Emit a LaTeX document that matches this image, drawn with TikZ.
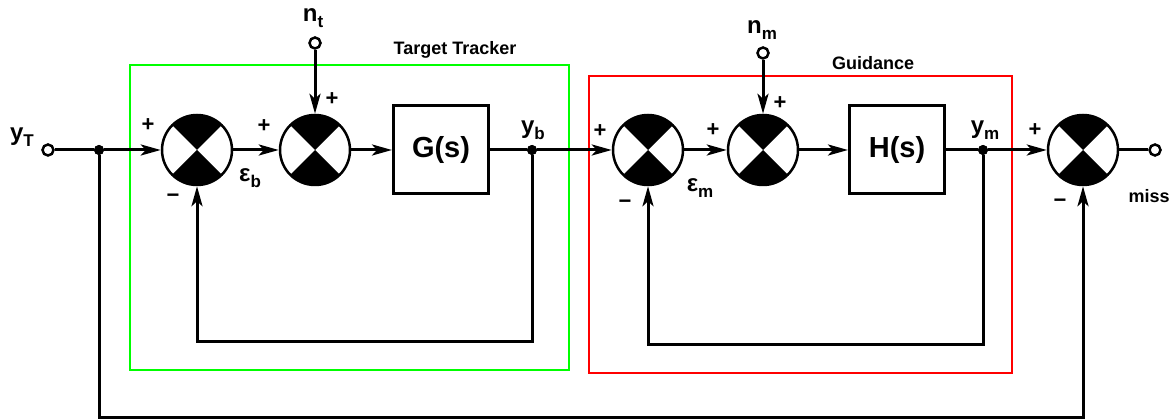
\documentclass[tikz,border=0pt]{standalone}
\usepackage{fontspec}
\setmainfont{Liberation Sans}
\usetikzlibrary{arrows.meta, positioning}

\newcommand{\sigl}[2]{#1\raisebox{-0.45ex}{\fontsize{17}{17}\selectfont #2}}

\begin{document}
\begin{tikzpicture}[x=1pt,y=-1pt]
\tikzset{sumnode/.style={circle,draw,line width=2.5pt,minimum size=70pt,inner sep=0pt,
           path picture={
             \fill[black](path picture bounding box.center)--(path picture bounding box.north west)--(path picture bounding box.north east)--cycle;
             \fill[black](path picture bounding box.center)--(path picture bounding box.south west)--(path picture bounding box.south east)--cycle;}},
         blockbox/.style={draw,line width=3pt,minimum width=95pt,minimum height=88pt,
           font=\fontsize{29}{32}\selectfont\bfseries},
         port/.style={circle,draw,fill=white,line width=2.5pt,minimum size=11pt,inner sep=0pt},
         junc/.style={circle,fill=black,minimum size=10pt,inner sep=0pt},
         sig/.style={line width=3pt,-{Stealth[length=20pt,width=11pt,inset=5pt]}},
         wire/.style={line width=3pt},
         sgn/.style={font=\fontsize{22}{22}\selectfont\bfseries},
         txt/.style={font=\fontsize{24}{26}\selectfont\bfseries},
         grouplbl/.style={font=\fontsize{18}{20}\selectfont\bfseries}}
\useasboundingbox(0,0) rectangle (1172,419);
\def\ly{150}
% Group frames
\draw[color=green,line width=1.3pt](130,65) rectangle (569,370);
\draw[color=red,line width=1.3pt](589,76) rectangle (1012,373);
\node[grouplbl] (trk) at (455,50) {Target Tracker};
\node[grouplbl] (gdc) at (873,63) {Guidance};
% Ports and junctions
\node[port] (yT) at (48,\ly) {};
\node[port] (nt) at (315,43) {};
\node[port] (nm) at (763,53) {};
\node[port] (out) at (1155,\ly) {};
% Summing points
\node[sumnode] (sum1) at (197,\ly) {};
\node[sumnode] (sum2) at (315,\ly) {};
\node[sumnode] (sum3) at (648,\ly) {};
\node[sumnode] (sum4) at (763,\ly) {};
\node[sumnode] (sum5) at (1083,\ly) {};
% Blocks
\node[blockbox] (G) at (441,\ly) {G(s)};
\node[blockbox] (H) at (897,\ly) {H(s)};
% Branch points
\node[junc] (jT) at (99,\ly) {};
\node[junc] (yb) at (532,\ly) {};
\node[junc] (ym) at (983,\ly) {};
\coordinate (fbb) at (532,342);
\coordinate (fbm) at (983,345);
\coordinate (fbT) at (99,417);
% Forward path
\draw[wire](yT)--(jT);
\draw[sig](jT)--(sum1);
\draw[sig](sum1)--(sum2);
\draw[sig](nt)--(sum2);
\draw[sig](sum2)--(G);
\draw[wire](G)--(yb);
\draw[sig](yb)--(sum3);
\draw[sig](sum3)--(sum4);
\draw[sig](nm)--(sum4);
\draw[sig](sum4)--(H);
\draw[wire](H)--(ym);
\draw[sig](ym)--(sum5);
\draw[wire](sum5)--(out);
% Feedback loops
\draw[sig](yb)--(fbb)-|(sum1);
\draw[sig](ym)--(fbm)-|(sum3);
\draw[sig](jT)--(fbT)-|(sum5);
% redraw dots on top
\node[junc] at (jT) {};
\node[junc] at (yb) {};
\node[junc] at (ym) {};
% Signal labels
\node[txt] (lyT) at (22,137) {\sigl{y}{T}};
\node[txt] (lnt) at (313,18) {\sigl{n}{t}};
\node[txt] (lnm) at (762,30) {\sigl{n}{m}};
\node[txt] (lyb) at (533,130) {\sigl{y}{b}};
\node[txt] (lym) at (985,130) {\sigl{y}{m}};
\node[txt] (leb) at (250,178) {\sigl{ε}{b}};
\node[txt] (lem) at (700,188) {\sigl{ε}{m}};
\node[grouplbl] (miss) at (1149,196) {miss};
% Signs
\node[sgn] at (148,125) {+};
\node[sgn] at (173,198) {−};
\node[sgn] at (264,126) {+};
\node[sgn] at (332,99) {+};
\node[sgn] at (600,131) {+};
\node[sgn] at (625,204) {−};
\node[sgn] at (713,130) {+};
\node[sgn] at (780,103) {+};
\node[sgn] at (1035,130) {+};
\node[sgn] at (1060,203) {−};
\end{tikzpicture}
\end{document}
